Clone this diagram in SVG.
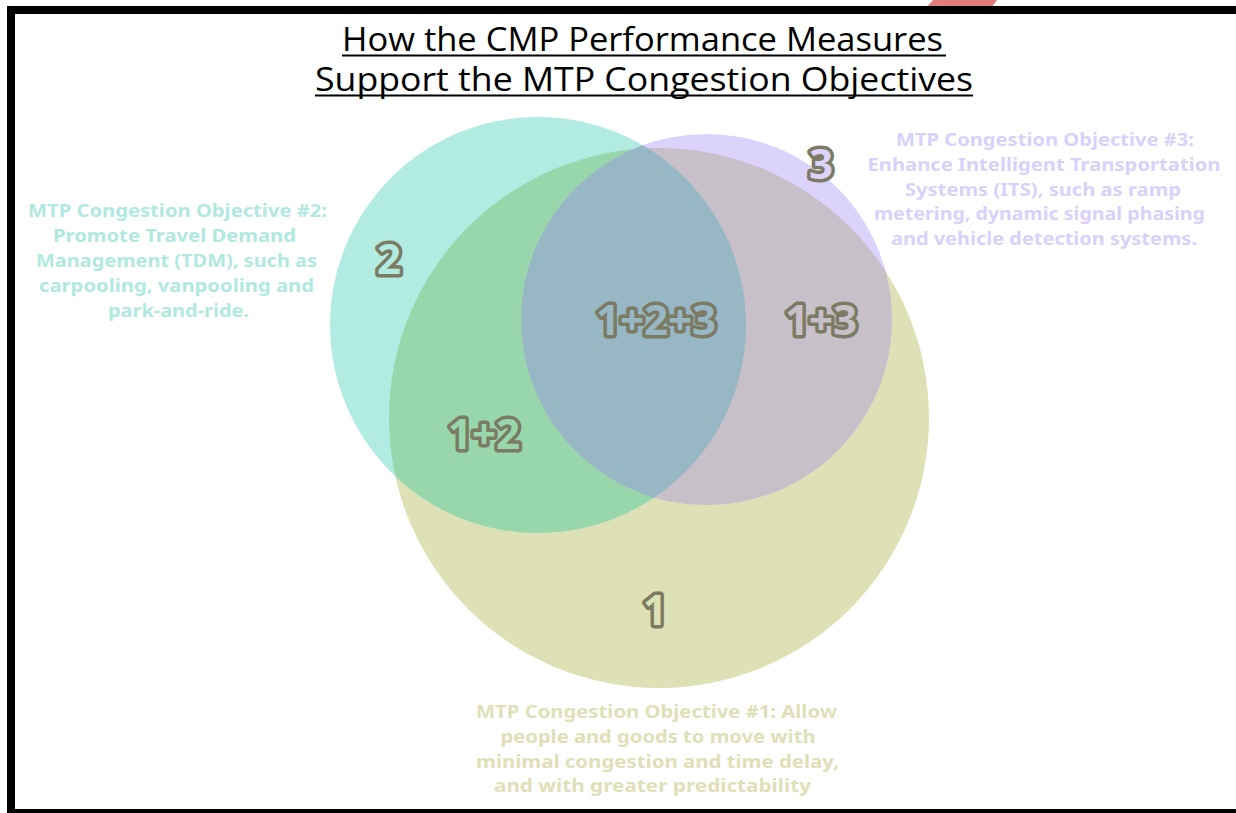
<svg xmlns="http://www.w3.org/2000/svg" width="1236" height="813" viewBox="0 0 1236 813">
<style>
.title{font-family:"Open Sans","Noto Sans","DejaVu Sans",sans-serif;font-size:32px;fill:#000}
.obj{font-family:"Noto Sans","Open Sans","DejaVu Sans",sans-serif;font-size:18px;font-weight:700;text-anchor:middle}
.num{font-family:"Noto Sans","Open Sans","DejaVu Sans",sans-serif;font-size:42px;font-weight:700;text-anchor:middle;stroke:#7b7a63;stroke-width:7;stroke-linejoin:round;paint-order:stroke}
</style>
<defs>
<clipPath id="clip1"><circle cx="659" cy="418" r="270"/></clipPath>
<clipPath id="clip2"><circle cx="538" cy="325" r="208"/></clipPath>
</defs>
<rect x="0" y="0" width="1236" height="813" fill="#ffffff"/>
<polygon points="933,0 997,0 992,7 927,7" fill="#e17d7c"/>
<g id="frame" fill="#000">
<rect x="7" y="6" width="1229" height="8"/>
<rect x="7" y="6" width="8" height="807"/>
<rect x="7" y="809" width="1229" height="4"/>
</g>
<g id="title">
<text class="title" x="342" y="51" textLength="601" lengthAdjust="spacingAndGlyphs">How the CMP Performance Measures</text>
<text class="title" x="315" y="91" textLength="658" lengthAdjust="spacingAndGlyphs">Support the MTP Congestion Objectives</text>
<line x1="342" y1="55.5" x2="946" y2="55.5" stroke="#000" stroke-width="2"/>
<line x1="315" y1="95.5" x2="973" y2="95.5" stroke="#000" stroke-width="2"/>
</g>
<g id="circles">
<circle id="circle1" cx="659" cy="418" r="270" fill="#dee0b5"/>
<circle id="circle2" cx="538" cy="325" r="208" fill="#b1ebe1"/>
<circle id="circle3" cx="706.5" cy="319.5" r="185.5" fill="#dbd3fb"/>
<circle id="overlap12" cx="538" cy="325" r="208" fill="#98d7ab" clip-path="url(#clip1)"/>
<circle id="overlap13" cx="706.5" cy="319.5" r="185.5" fill="#c7c0c9" clip-path="url(#clip1)"/>
<circle id="overlap23" cx="706.5" cy="319.5" r="185.5" fill="#98b7c4" clip-path="url(#clip2)"/>
</g>
<g id="numbers">
<text class="num" x="389" y="273.5" fill="#b1ebe1">2</text>
<text class="num" x="821" y="178.5" fill="#dbd3fb">3</text>
<text class="num" x="656" y="334.5" fill="#98b7c4">1+2+3</text>
<text class="num" x="821" y="334.5" fill="#c7c0c9">1+3</text>
<text class="num" x="484" y="448.5" fill="#98d7ab">1+2</text>
<text class="num" x="655" y="624.5" fill="#dee0b5">1</text>
</g>
<g id="objective2" fill="#b1e9e0">
<text class="obj" x="177.5" y="217" textLength="299" lengthAdjust="spacingAndGlyphs">MTP Congestion Objective #2:</text>
<text class="obj" x="174.5" y="242" textLength="243" lengthAdjust="spacingAndGlyphs">Promote Travel Demand</text>
<text class="obj" x="176.5" y="267" textLength="281" lengthAdjust="spacingAndGlyphs">Management (TDM), such as</text>
<text class="obj" x="176.5" y="292" textLength="275" lengthAdjust="spacingAndGlyphs">carpooling, vanpooling and</text>
<text class="obj" x="178.5" y="317" textLength="141" lengthAdjust="spacingAndGlyphs">park-and-ride.</text>
</g>
<g id="objective3" fill="#d9d1f9">
<text class="obj" x="1045" y="146" textLength="298" lengthAdjust="spacingAndGlyphs">MTP Congestion Objective #3:</text>
<text class="obj" x="1044" y="171" textLength="353" lengthAdjust="spacingAndGlyphs">Enhance Intelligent Transportation</text>
<text class="obj" x="1043" y="195.5" textLength="276" lengthAdjust="spacingAndGlyphs">Systems (ITS), such as ramp</text>
<text class="obj" x="1039.5" y="220" textLength="331" lengthAdjust="spacingAndGlyphs">metering, dynamic signal phasing</text>
<text class="obj" x="1044" y="245" textLength="306" lengthAdjust="spacingAndGlyphs">and vehicle detection systems.</text>
</g>
<g id="objective1" fill="#dfe0b8">
<text class="obj" x="656.5" y="718" textLength="361" lengthAdjust="spacingAndGlyphs">MTP Congestion Objective #1: Allow</text>
<text class="obj" x="658" y="743" textLength="315" lengthAdjust="spacingAndGlyphs">people and goods to move with</text>
<text class="obj" x="657.5" y="768" textLength="363" lengthAdjust="spacingAndGlyphs">minimal congestion and time delay,</text>
<text class="obj" x="652.5" y="792" textLength="317" lengthAdjust="spacingAndGlyphs">and with greater predictability</text>
</g>
<g id="connectors"/>
</svg>
